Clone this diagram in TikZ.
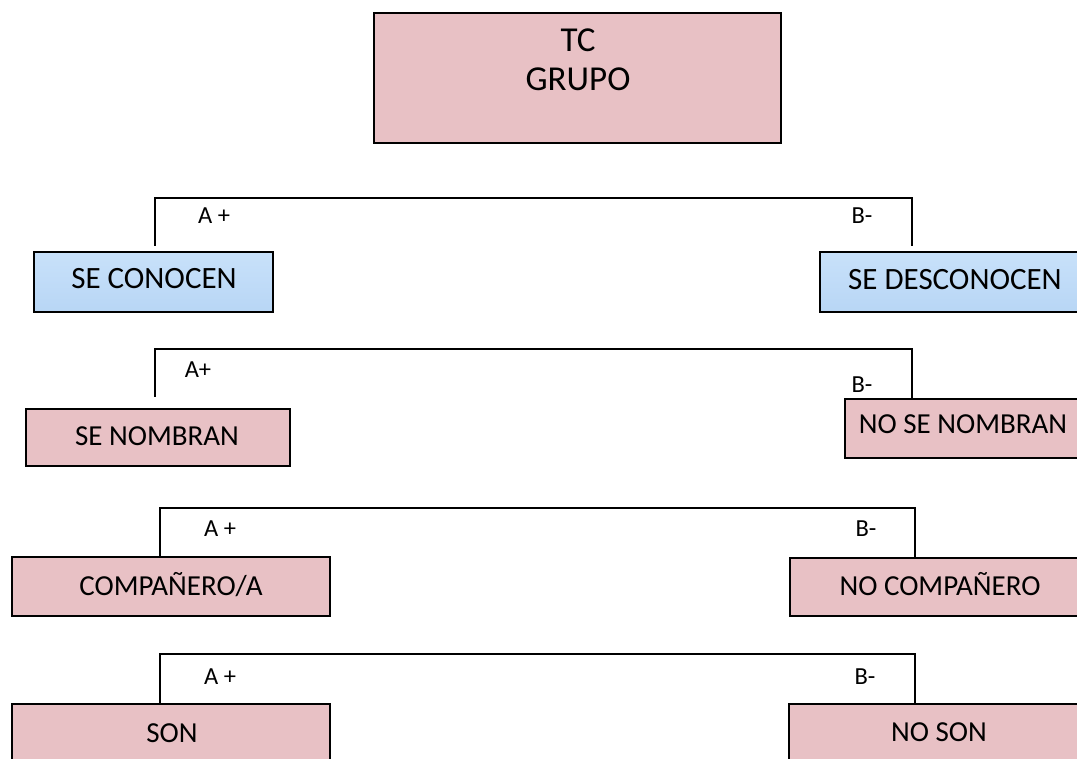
\documentclass[tikz,border=0pt]{standalone}
\usepackage{fontspec}
\setmainfont{Carlito}
\definecolor{pinkfill}{RGB}{232,193,197}
\definecolor{bluetop}{RGB}{200,225,250}
\definecolor{bluemid}{RGB}{214,233,252}
\definecolor{bluebot}{RGB}{184,214,245}
\tikzset{
  pinkbox/.style={draw=black, line width=1.4pt, fill=pinkfill, inner sep=0pt},
  bluebox/.style={draw=black, line width=1.2pt, top color=bluetop, middle color=bluemid, bottom color=bluebot, inner sep=0pt},
  boxtext/.style={inner sep=0pt, anchor=base, font=\fontsize{29}{34}\selectfont},
  bluetext/.style={inner sep=0pt, anchor=base, font=\fontsize{31}{36}\selectfont},
  lbl/.style={inner sep=0pt, anchor=base, font=\fontsize{24.5}{28}\selectfont},
  titletext/.style={inner sep=0pt, anchor=base, font=\fontsize{35}{40}\selectfont},
  conn/.style={draw=black, line width=1.2pt},
}
\begin{document}
\begin{tikzpicture}[x=1pt, y=-1pt]
\useasboundingbox (0,0) rectangle (1077,759);
\fill[white] (0,0) rectangle (1077,759);
\begin{scope}
\clip (0,0) rectangle (1077,759);
% top box
\node[pinkbox, minimum width=407, minimum height=130] (tc) at (577.5,78) {};
\node[titletext] (tct) at (578,52) {TC};
\node[titletext] (grt) at (578,91) {GRUPO};

% row 1
\node[bluebox, minimum width=239, minimum height=60] (conocen) at (153.5,282) {};
\node[bluetext] (conocent) at (154,289) {SE CONOCEN};
\node[bluebox, minimum width=270, minimum height=60] (desconocen) at (955,282) {};
\node[bluetext] (desconocent) at (955,290) {SE DESCONOCEN};
\coordinate (a1) at (155,246);
\coordinate (b1) at (912,246);
\draw[conn] (a1) -- ++(0,-48) -| (b1);
\node[lbl] (la1) at (214,224) {A +};
\node[lbl] (lb1) at (862,224) {B-};

% row 2
\node[pinkbox, minimum width=264, minimum height=57] (nombran) at (158,437.5) {};
\node[boxtext] (nombrant) at (157,446) {SE NOMBRAN};
\node[pinkbox, minimum width=236, minimum height=59] (nonombran) at (963,428.5) {};
\node[boxtext] (nonombrant) at (963,434) {NO SE NOMBRAN};
\coordinate (a2) at (155,397);
\coordinate (b2) at (912,399);
\draw[conn] (a2) |- (b2 |- 0,349) -- (b2);
\node[lbl] (la2) at (198,378) {A+};
\node[lbl] (lb2) at (862,393) {B-};

% row 3
\node[pinkbox, minimum width=318, minimum height=59] (comp) at (171,586.5) {};
\node[boxtext] (compt) at (171,595) {COMPAÑERO/A};
\node[pinkbox, minimum width=300, minimum height=58] (nocomp) at (940,587) {};
\node[boxtext] (nocompt) at (940,595) {NO COMPAÑERO};
\coordinate (a3) at (160,556);
\coordinate (b3) at (915,558);
\draw[conn] (a3) |- (b3 |- 0,508) -- (b3);
\node[lbl] (la3) at (220,536) {A +};
\node[lbl] (lb3) at (866,536) {B-};

% row 4
\node[pinkbox, minimum width=318, minimum height=58] (son) at (171,733) {};
\node[boxtext] (sont) at (172,742) {SON};
\node[pinkbox, minimum width=302, minimum height=58] (noson) at (940,733) {};
\node[boxtext] (nosont) at (939,741) {NO SON};
\coordinate (a4) at (160,703);
\coordinate (b4) at (915,703);
\draw[conn] (a4) |- (b4 |- 0,654) -- (b4);
\node[lbl] (la4) at (220,684) {A +};
\node[lbl] (lb4) at (865,684) {B-};
\end{scope}
\end{tikzpicture}
\end{document}
